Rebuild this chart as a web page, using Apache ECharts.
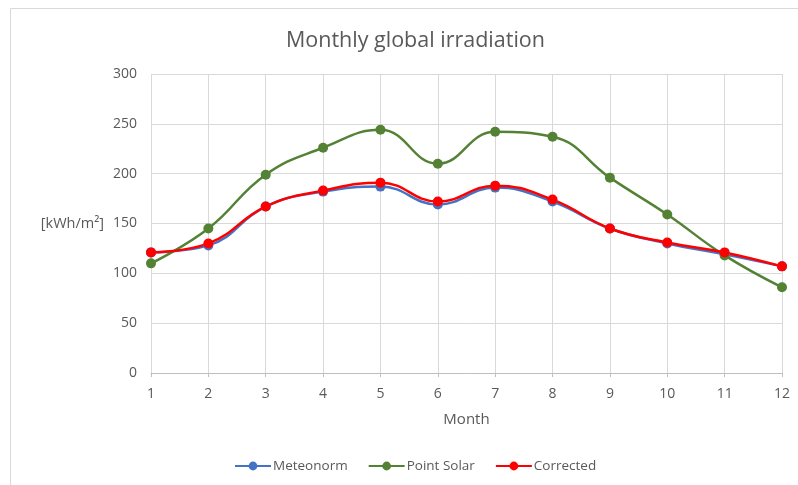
<!DOCTYPE html>
<html><head><meta charset="utf-8">
<script src="https://cdn.jsdelivr.net/npm/echarts@6/dist/echarts.min.js"></script>
<style>html,body{margin:0;padding:0;background:#fff}#c{width:798px;height:485px}</style>
</head><body><div id="c"></div>
<script>
const months = ['1','2','3','4','5','6','7','8','9','10','11','12'];
const meteonorm = [121, 128, 167, 182, 187, 169, 186, 172, 145, 130, 119, 107];
const pointSolar = [110, 145, 199, 226, 244, 210, 242, 237, 196, 159, 118, 86];
const corrected = [121, 130, 167, 183, 191, 172, 188, 174, 145, 131, 121, 107];
const yTicks = {min: 0, max: 300, interval: 50};

const font = 'Open Sans, Noto Sans, sans-serif';
const txt = '#595959';
const chart = echarts.init(document.getElementById('c'), null, {renderer: 'canvas'});
function mk(name, data, color) {
  return {name, type: 'line', data, smooth: 0.45, symbol: 'circle', symbolSize: 10,
    lineStyle: {color, width: 2.5}, itemStyle: {color}, emphasis: {disabled: true}};
}
chart.setOption({
  animation: false,
  textStyle: {fontFamily: font},
  graphic: [{type: 'rect', shape: {x: 10.5, y: 8.5, width: 800, height: 500},
    style: {fill: 'none', stroke: '#d9d9d9', lineWidth: 1}, silent: true}],
  title: {text: 'Monthly global irradiation', left: 281, top: 25,
    textStyle: {fontFamily: font, fontSize: 21.5, fontWeight: 'normal', color: txt}},
  grid: {left: 151, right: 16, top: 74, bottom: 112, containLabel: false},
  legend: {bottom: 7, left: 229, itemWidth: 36, itemHeight: 11, itemGap: 20,
    textStyle: {fontFamily: font, fontSize: 13.5, color: txt, padding: [0, 0, 0, -3]}},
  xAxis: {type: 'category', data: months, boundaryGap: false,
    name: 'Month', nameLocation: 'middle', nameGap: 39,
    nameTextStyle: {fontFamily: font, fontSize: 15, color: txt},
    axisLine: {lineStyle: {color: '#bfbfbf'}}, axisTick: {show: true, lineStyle: {color: '#bfbfbf'}, length: 4},
    axisLabel: {color: txt, fontSize: 14, margin: 14},
    splitLine: {show: true, lineStyle: {color: '#d9d9d9'}}},
  yAxis: {type: 'value', min: yTicks.min, max: yTicks.max, interval: yTicks.interval,
    name: '[kWh/m²]', nameLocation: 'middle', nameRotate: 0, nameGap: 47,
    nameTextStyle: {fontFamily: font, fontSize: 14.5, color: txt, align: 'right'},
    axisLine: {show: false}, axisTick: {show: false},
    axisLabel: {color: txt, fontSize: 14, margin: 14},
    splitLine: {lineStyle: {color: '#d9d9d9'}}},
  series: [mk('Meteonorm', meteonorm, '#4472C4'), mk('Point Solar', pointSolar, '#548235'), mk('Corrected', corrected, '#FF0000')]
});
</script></body></html>
